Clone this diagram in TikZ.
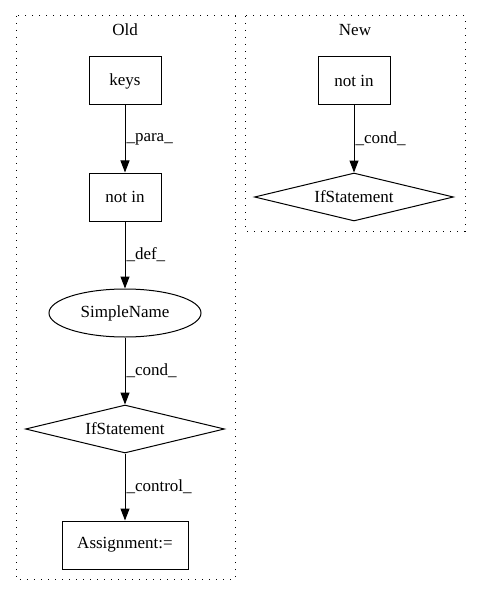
\documentclass[tikz,border=0pt]{standalone}
\usepackage{fontspec}
\setmainfont{Liberation Serif}
\usetikzlibrary{shapes.geometric, arrows.meta}
\tikzstyle{arrow} = [line width=1pt,-{Triangle[length=12pt,width=9pt]}]
\tikzstyle{cluster} = [line width=1pt, dash pattern=on 1.2pt off 5.8pt]
\tikzstyle{box} = [rectangle, draw, line width=1pt, minimum width=72pt, minimum height=48pt, inner sep=0pt]
\tikzstyle{cond} = [diamond, draw, line width=1pt, aspect=4, inner sep=0pt, minimum width=199pt, minimum height=48pt]

\begin{document}
\begin{tikzpicture}[x=1pt,y=-1pt,font=\fontsize{17}{19}\selectfont]
\useasboundingbox (0,0) rectangle (480,596);
\draw [cluster] (16,16) rectangle (235,579);
\draw [cluster] (245,16) rectangle (465,231);
\node (old) at (125,30) {Old};
\node (new) at (355,30) {New};
\node [box] (keys) at (125,81) {keys};
\node [box] (notin) at (125,197) {not in};
\node [ellipse, draw, line width=1pt, minimum width=152pt, minimum height=48pt, inner sep=0pt] (sname) at (125,313) {SimpleName};
\node [cond] (ifold) at (125,429) {IfStatement};
\node [box, minimum width=126pt] (assign) at (125,545) {Assignment:=};
\node [box] (notinnew) at (354,81) {not in};
\node [cond] (ifnew) at (354,197) {IfStatement};
\draw [arrow] (keys) to node [right, inner sep=1pt] {\_para\_} (notin);
\draw [arrow] (notin) to node [right, inner sep=1pt] {\_def\_} (sname);
\draw [arrow] (sname) to node [right, inner sep=1pt] {\_cond\_} (ifold);
\draw [arrow] (ifold) to node [right, inner sep=1pt] {\_control\_} (assign);
\draw [arrow] (notinnew) to node [right, inner sep=1pt] {\_cond\_} (ifnew);
\end{tikzpicture}
\end{document}
